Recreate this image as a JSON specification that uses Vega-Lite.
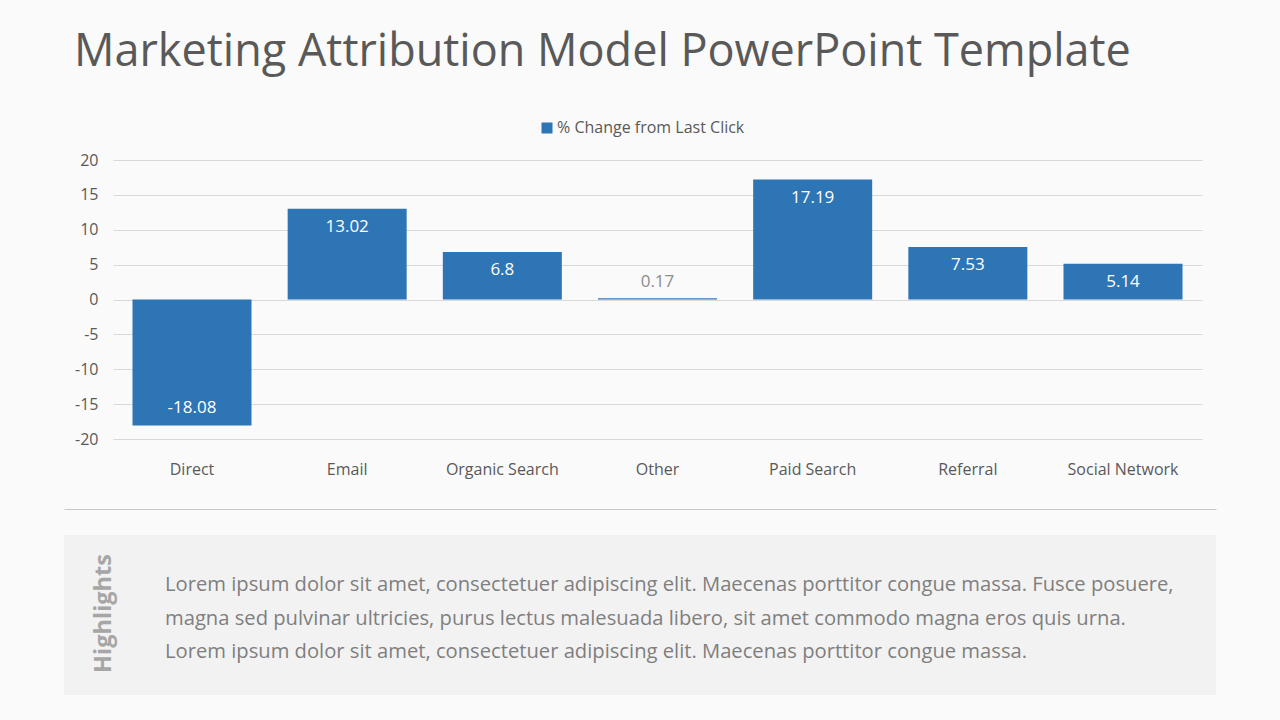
{
  "$schema": "https://vega.github.io/schema/vega-lite/v6.json",
  "background": "#fafafa",
  "padding": {"left": 64, "top": 30, "right": 64, "bottom": 25},
  "config": {"font": "Open Sans", "view": {"stroke": null}},
  "title": {
    "text": "Marketing Attribution Model PowerPoint Template",
    "anchor": "start",
    "frame": "bounds",
    "fontSize": 45,
    "fontWeight": "normal",
    "color": "#595959",
    "dx": 10,
    "offset": 45
  },
  "spacing": 32,
  "vconcat": [
    {
      "spacing": 0,
      "hconcat": [
        {
          "width": 1,
          "height": 1,
          "data": {"values": []},
          "mark": {"type": "point", "opacity": 0},
          "encoding": {}
        },
        {
          "width": 1089,
          "height": 279,
          "data": {
            "values": [
              {"channel": "Direct", "value": -18.08},
              {"channel": "Email", "value": 13.02},
              {"channel": "Organic Search", "value": 6.8},
              {"channel": "Other", "value": 0.17},
              {"channel": "Paid Search", "value": 17.19},
              {"channel": "Referral", "value": 7.53},
              {"channel": "Social Network", "value": 5.14}
            ]
          },
          "encoding": {
            "x": {
              "field": "channel",
              "type": "nominal",
              "sort": null,
              "scale": {"paddingInner": 0.233, "paddingOuter": 0.1256},
              "axis": {
                "title": null,
                "labelAngle": 0,
                "labelFontSize": 16,
                "labelColor": "#595959",
                "labelPadding": 22,
                "ticks": false,
                "domain": false
              }
            },
            "y": {
              "field": "value",
              "type": "quantitative",
              "scale": {"domain": [-20, 20]},
              "axis": {
                "title": null,
                "values": [-20, -15, -10, -5, 0, 5, 10, 15, 20],
                "labelExpr": "'' + datum.value",
                "labelFontSize": 16,
                "labelColor": "#595959",
                "labelPadding": 15,
                "ticks": false,
                "domain": false,
                "gridColor": "#d9d9d9",
                "minExtent": 48,
                "maxExtent": 48
              }
            }
          },
          "layer": [
            {
              "mark": {"type": "bar"},
              "encoding": {
                "color": {
                  "datum": "% Change from Last Click",
                  "type": "nominal",
                  "scale": {"range": ["#2E75B6"]},
                  "legend": {
                    "title": null,
                    "orient": "none",
                    "legendX": 475,
                    "legendY": -40,
                    "symbolType": "square",
                    "symbolSize": 121,
                    "symbolStrokeWidth": 0,
                    "labelOffset": 2,
                    "labelLimit": 400,
                    "labelFontSize": 16,
                    "labelColor": "#595959"
                  }
                }
              }
            },
            {
              "transform": [{"filter": "datum.value >= 1"}],
              "mark": {"type": "text", "baseline": "middle", "dy": 18, "fontSize": 17, "color": "#ffffff"},
              "encoding": {"text": {"field": "value", "type": "nominal"}}
            },
            {
              "transform": [{"filter": "datum.value <= -1"}],
              "mark": {"type": "text", "baseline": "middle", "dy": -18, "fontSize": 17, "color": "#ffffff"},
              "encoding": {"text": {"field": "value", "type": "nominal"}}
            },
            {
              "transform": [{"filter": "abs(datum.value) < 1"}],
              "mark": {"type": "text", "baseline": "middle", "dy": -16, "fontSize": 17, "color": "#8c8c8c"},
              "encoding": {"text": {"field": "value", "type": "nominal"}}
            }
          ]
        }
      ]
    },
    {
      "width": 1152,
      "height": 160,
      "view": {"fill": "#f2f2f2", "stroke": null},
      "data": {
        "values": [
          {"line": 1, "text": "Lorem ipsum dolor sit amet, consectetuer adipiscing elit. Maecenas porttitor congue massa. Fusce posuere,"},
          {"line": 2, "text": "magna sed pulvinar ultricies, purus lectus malesuada libero, sit amet commodo magna eros quis urna."},
          {"line": 3, "text": "Lorem ipsum dolor sit amet, consectetuer adipiscing elit. Maecenas porttitor congue massa."}
        ]
      },
      "mark": {"type": "text", "align": "left", "baseline": "middle", "dx": 101, "fontSize": 20.2, "color": "#7f7f7f"},
      "encoding": {
        "x": {
          "datum": 0,
          "type": "quantitative",
          "scale": {"domain": [0, 1]},
          "axis": {
            "orient": "top",
            "offset": 26,
            "domainColor": "#c8c8c8",
            "domainWidth": 1,
            "labels": false,
            "ticks": false,
            "grid": false,
            "title": null
          }
        },
        "y": {
          "field": "line",
          "type": "ordinal",
          "scale": {"type": "point", "range": [50, 117], "padding": 0},
          "axis": {
            "title": "Highlights",
            "labels": false,
            "ticks": false,
            "domain": false,
            "grid": false,
            "titleFontSize": 23.5,
            "titleFontWeight": "bold",
            "titleColor": "#a6a6a6",
            "titleX": 46,
            "titleY": 78,
            "titleBaseline": "alphabetic"
          }
        },
        "text": {"field": "text"}
      }
    }
  ]
}
